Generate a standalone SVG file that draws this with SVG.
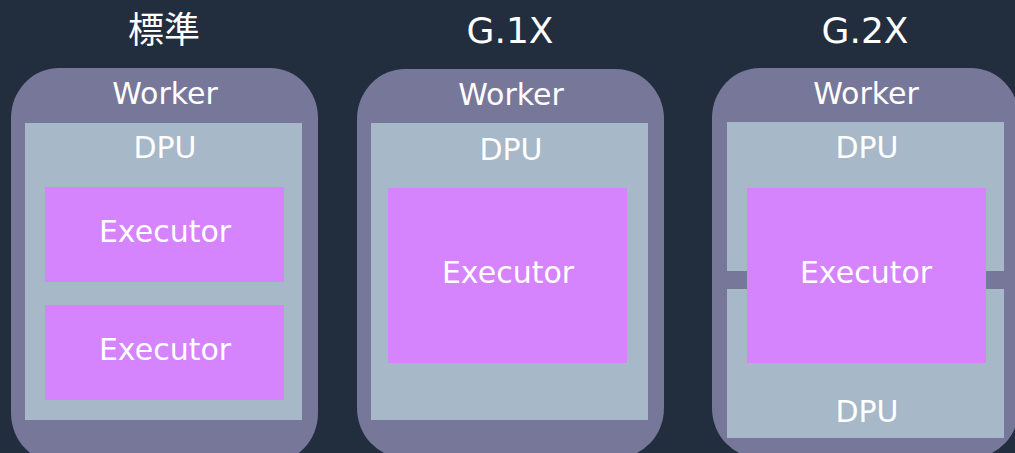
<svg xmlns="http://www.w3.org/2000/svg" width="1015" height="453" viewBox="0 0 1015 453">
<style>
.bg{fill:#222d3e}
.worker{fill:#77779a}
.dpu{fill:#a7b8c8}
.exec{fill:#d683fe}
text{font-family:"DejaVu Sans","Noto Sans CJK JP",sans-serif;fill:#ffffff;text-anchor:middle;font-size:30px}
.title{font-size:36px}
</style>
<rect class="bg" x="0" y="0" width="1015" height="453"/>
<g id="titles">
<text class="title" x="164" y="43">標準</text>
<text class="title" x="510" y="43">G.1X</text>
<text class="title" x="865" y="43">G.2X</text>
</g>
<g id="worker-standard">
<rect class="worker" x="11" y="68" width="307" height="395" rx="48" ry="50"/>
<text x="165" y="104">Worker</text>
<g id="dpu-standard">
<rect class="dpu" x="25" y="123" width="277" height="297"/>
<text x="165" y="158">DPU</text>
</g>
<g id="executor-standard-1">
<rect class="exec" x="45" y="187" width="239" height="95"/>
<text x="165" y="242">Executor</text>
</g>
<g id="executor-standard-2">
<rect class="exec" x="45" y="305" width="239" height="95"/>
<text x="165" y="360">Executor</text>
</g>
</g>
<g id="worker-g1x">
<rect class="worker" x="357" y="69" width="307" height="389" rx="48" ry="50"/>
<text x="511" y="105">Worker</text>
<g id="dpu-g1x">
<rect class="dpu" x="371" y="123" width="277" height="297"/>
<text x="511" y="160">DPU</text>
</g>
<g id="executor-g1x">
<rect class="exec" x="388" y="188" width="239" height="175"/>
<text x="508" y="283">Executor</text>
</g>
</g>
<g id="worker-g2x">
<rect class="worker" x="712" y="68" width="307" height="390" rx="48" ry="50"/>
<text x="866" y="104">Worker</text>
<g id="dpu-g2x-1">
<rect class="dpu" x="727" y="122" width="277" height="149"/>
<text x="867" y="158">DPU</text>
</g>
<g id="dpu-g2x-2">
<rect class="dpu" x="727" y="289" width="277" height="149"/>
<text x="867" y="422">DPU</text>
</g>
<g id="executor-g2x">
<rect class="exec" x="747" y="188" width="239" height="175"/>
<text x="866" y="283">Executor</text>
</g>
</g>
<g id="connectors"/>
</svg>
